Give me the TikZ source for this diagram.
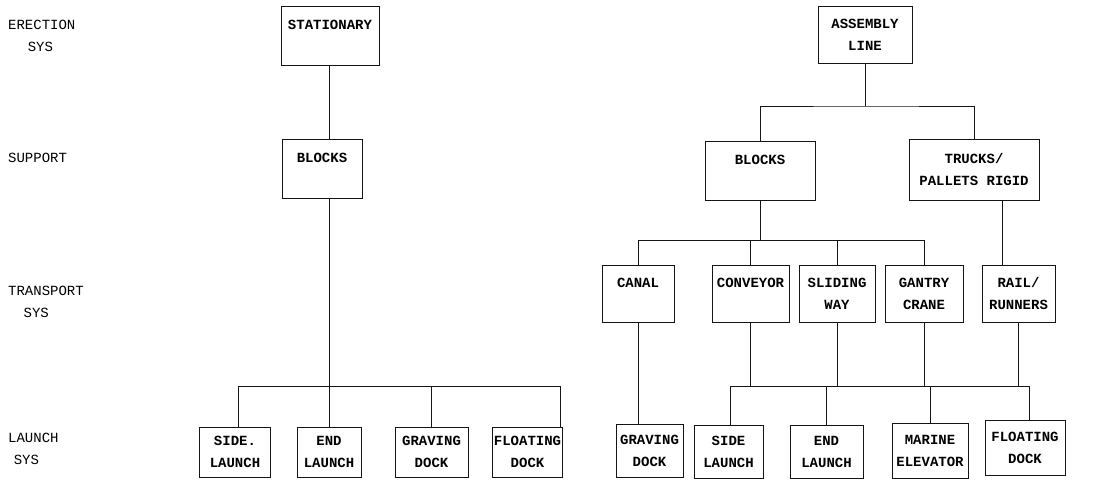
\documentclass[tikz,border=0pt]{standalone}
\usepackage{fontspec}
\setmonofont{Liberation Mono}
\usetikzlibrary{calc}
\definecolor{LineClr}{rgb}{0.08,0.08,0.08}

\tikzset{
  box/.style={draw=LineClr, line width=0.9pt, align=center, inner sep=1pt,
    font=\ttfamily\bfseries\fontsize{14}{22}\selectfont},
  wh/.style 2 args={minimum width=#1pt, minimum height=#2pt},
  lvl/.style={anchor=west, align=left, inner sep=0pt,
    font=\ttfamily\fontsize{14}{22}\selectfont},
  link/.style={draw=LineClr, line width=0.8pt}
}

\begin{document}
\begin{tikzpicture}[x=1pt,y=-1pt]
\useasboundingbox (0,0) rectangle (1100,481);

% level names
\node[lvl] (erec) at (8,36) {ERECTION\\\hspace*{1.4em}SYS};
\node[lvl] (supp) at (8,158) {SUPPORT};
\node[lvl] (tran) at (8,302) {TRANSPORT\\\hspace*{1.1em}SYS};
\node[lvl] (laun) at (8,449) {LAUNCH\\\hspace*{0.4em}SYS};

% stationary branch
\node[box,wh={98}{59}] (stat) at (330,35.5) {STATIONARY\\\mbox{}};
\node[box,wh={80}{59}] (blkL) at (322,168.5) {BLOCKS\\\mbox{}};

\node[box,wh={71}{50}] (lsid) at (235,452) {SIDE.\\LAUNCH};
\node[box,wh={64}{50}] (lend) at (329,452) {END\\LAUNCH};
\node[box,wh={73}{50}] (lgrv) at (431.5,452) {GRAVING\\DOCK};
\node[box,wh={69}{50}] (lflt) at (527.5,452) {FLOATING\\DOCK};

% assembly line branch
\node[box,wh={94}{57}] (asm) at (865,34.5) {ASSEMBLY\\LINE};
\node[box,wh={110}{59}] (blkR) at (760,170.5) {BLOCKS\\\mbox{}};
\node[box,wh={130}{61}] (trk) at (974,169.5) {TRUCKS/\\PALLETS RIGID};

\node[box,wh={72}{57}] (canal) at (638,293.5) {CANAL\\\mbox{}};
\node[box,wh={77}{57}] (conv) at (750.5,293.5) {CONVEYOR\\\mbox{}};
\node[box,wh={76}{57}] (slid) at (837,293.5) {SLIDING\\WAY};
\node[box,wh={78}{57}] (gant) at (924,293.5) {GANTRY\\CRANE};
\node[box,wh={73}{57}] (rail) at (1018.5,293.5) {RAIL/\\RUNNERS};

\node[box,wh={67}{53}] (rgrv) at (649.5,450.5) {GRAVING\\DOCK};
\node[box,wh={69}{53}] (rsid) at (728.5,451.5) {SIDE\\LAUNCH};
\node[box,wh={73}{53}] (rend) at (826.5,451.5) {END\\LAUNCH};
\node[box,wh={76}{55}] (mar) at (930,450.5) {MARINE\\ELEVATOR};
\node[box,wh={80}{55}] (rflt) at (1025,447.5) {FLOATING\\DOCK};

% bus points
\coordinate (lbusL) at (238,386);
\coordinate (lbusR) at (560,386);
\coordinate (abus) at (865,106);
\coordinate (tbusL) at (639,240);
\coordinate (tbusR) at (924,240);
\coordinate (rx) at (1002,0);
\coordinate (rbusL) at (730,386);
\coordinate (rbusR) at (1029,386);

% connectors, stationary
\draw[link] (stat.south -| lend.north) -- (blkL.north -| lend.north);
\draw[link] (blkL.south -| lend.north) -- (lend.north);
\draw[link] (lbusL) -- (lbusR);
\draw[link] (lbusL) -- (lsid.north -| lbusL);
\draw[link] (lgrv.north |- lbusL) -- (lgrv.north);
\draw[link] (lbusR) -- (lflt.north -| lbusR);

% connectors, assembly line
\draw[link] (asm.south) -- (abus);
\draw[link] (blkR.north) |- (abus) -| (trk.north);
\draw[link] (blkR.south) -- (blkR.south |- tbusL);
\draw[link] (canal.north) |- (tbusR) -- (gant.north);
\draw[link] (conv.north) -- (conv.north |- tbusL);
\draw[link] (slid.north) -- (slid.north |- tbusL);
\draw[link] (trk.south -| rx) -- (rail.north -| rx);

\draw[link] (canal.south) -- (canal.south |- rgrv.north);
\draw[link] (rbusL) -- (rbusR);
\draw[link] (conv.south) -- (conv.south |- rbusL);
\draw[link] (slid.south) -- (slid.south |- rbusL);
\draw[link] (gant.south) -- (gant.south |- rbusL);
\draw[link] (rail.south) -- (rail.south |- rbusL);
\draw[link] (rbusL) -- (rsid.north -| rbusL);
\draw[link] (rend.north |- rbusL) -- (rend.north);
\draw[link] (mar.north |- rbusL) -- (mar.north);
\draw[link] (rbusR) -- (rflt.north -| rbusR);

\end{tikzpicture}
\end{document}
